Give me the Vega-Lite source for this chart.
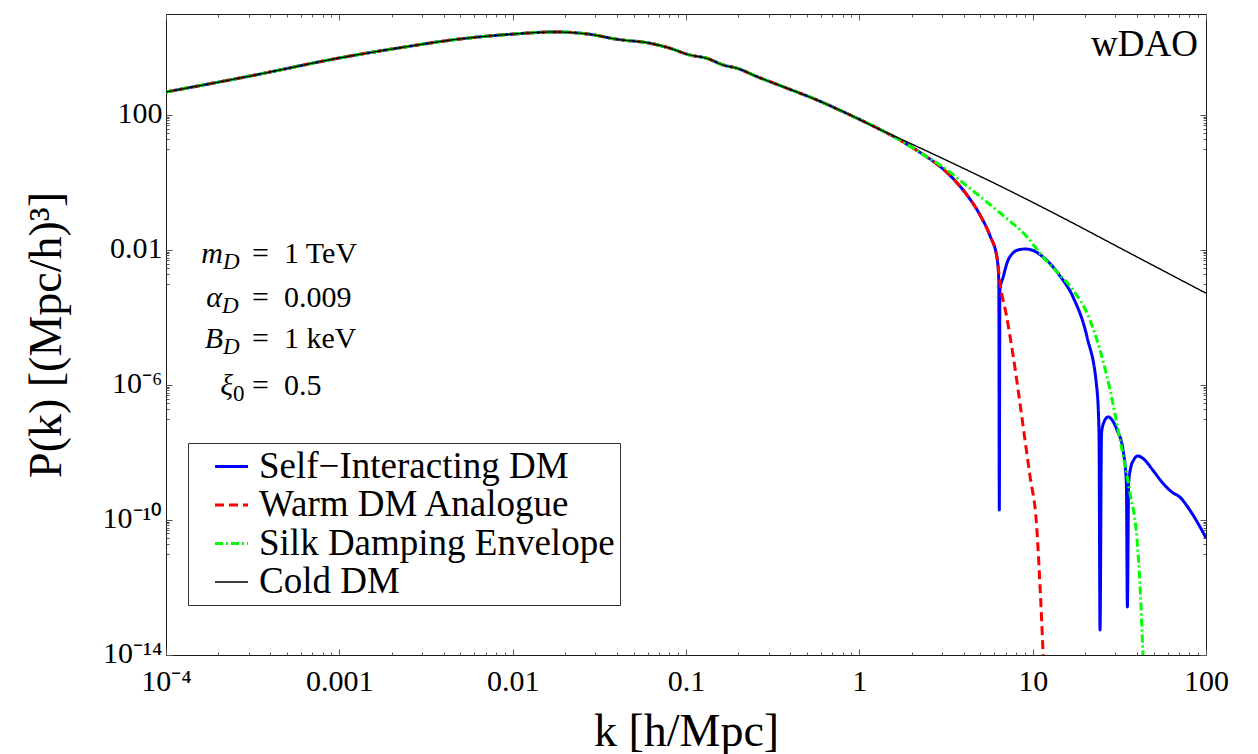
{
  "$schema": "https://vega.github.io/schema/vega-lite/v6.json",
  "width": 1040,
  "height": 641,
  "autosize": "none",
  "padding": {"left": 166, "top": 14, "right": 52, "bottom": 99},
  "background": "white",
  "config": {
    "view": {"stroke": "#1a1a1a", "strokeWidth": 1},
    "font": "Liberation Serif",
    "axis": {
      "grid": false,
      "domain": false,
      "tickColor": "#555",
      "tickWidth": 1,
      "labelFont": "Liberation Serif",
      "labelFontSize": 30,
      "labelColor": "#000",
      "labelFlush": false,
      "labelOverlap": false,
      "titleFont": "Liberation Serif",
      "titleFontSize": 46,
      "titleFontWeight": "normal",
      "titleColor": "#000"
    }
  },
  "datasets": {
    "curves": [
      {"series": "Self−Interacting DM", "k": 0.0001, "P": 488},
      {"series": "Self−Interacting DM", "k": 0.000316, "P": 1500},
      {"series": "Self−Interacting DM", "k": 0.001, "P": 4970},
      {"series": "Self−Interacting DM", "k": 0.00224, "P": 10000},
      {"series": "Self−Interacting DM", "k": 0.00497, "P": 18200},
      {"series": "Self−Interacting DM", "k": 0.00966, "P": 25000},
      {"series": "Self−Interacting DM", "k": 0.0175, "P": 29300},
      {"series": "Self−Interacting DM", "k": 0.0279, "P": 25000},
      {"series": "Self−Interacting DM", "k": 0.04, "P": 17800},
      {"series": "Self−Interacting DM", "k": 0.0619, "P": 13600},
      {"series": "Self−Interacting DM", "k": 0.0776, "P": 10300},
      {"series": "Self−Interacting DM", "k": 0.1054, "P": 6100},
      {"series": "Self−Interacting DM", "k": 0.132, "P": 4860},
      {"series": "Self−Interacting DM", "k": 0.164, "P": 3080},
      {"series": "Self−Interacting DM", "k": 0.197, "P": 2460},
      {"series": "Self−Interacting DM", "k": 0.257, "P": 1390},
      {"series": "Self−Interacting DM", "k": 0.363, "P": 700},
      {"series": "Self−Interacting DM", "k": 0.57, "P": 282},
      {"series": "Self−Interacting DM", "k": 0.883, "P": 102},
      {"series": "Self−Interacting DM", "k": 1.371, "P": 34},
      {"series": "Self−Interacting DM", "k": 1.717, "P": 18.4},
      {"series": "Self−Interacting DM", "k": 2.04, "P": 10.7},
      {"series": "Self−Interacting DM", "k": 2.457, "P": 5.78},
      {"series": "Self−Interacting DM", "k": 3.04, "P": 2.55},
      {"series": "Self−Interacting DM", "k": 3.47, "P": 1.33},
      {"series": "Self−Interacting DM", "k": 4.18, "P": 0.431},
      {"series": "Self−Interacting DM", "k": 4.97, "P": 0.11},
      {"series": "Self−Interacting DM", "k": 5.68, "P": 0.0263},
      {"series": "Self−Interacting DM", "k": 6.23, "P": 0.00586},
      {"series": "Self−Interacting DM", "k": 6.38, "P": 0.0012},
      {"series": "Self−Interacting DM", "k": 6.42, "P": 2.0e-10},
      {"series": "Self−Interacting DM", "k": 6.47, "P": 0.00066},
      {"series": "Self−Interacting DM", "k": 6.77, "P": 0.00164},
      {"series": "Self−Interacting DM", "k": 7.11, "P": 0.00417},
      {"series": "Self−Interacting DM", "k": 7.7, "P": 0.00824},
      {"series": "Self−Interacting DM", "k": 8.23, "P": 0.0101},
      {"series": "Self−Interacting DM", "k": 9.04, "P": 0.0108},
      {"series": "Self−Interacting DM", "k": 10.05, "P": 0.00977},
      {"series": "Self−Interacting DM", "k": 11.47, "P": 0.00628},
      {"series": "Self−Interacting DM", "k": 14.38, "P": 0.00172},
      {"series": "Self−Interacting DM", "k": 17.09, "P": 0.000409},
      {"series": "Self−Interacting DM", "k": 20.59, "P": 2.67e-5},
      {"series": "Self−Interacting DM", "k": 23.51, "P": 7.18e-7},
      {"series": "Self−Interacting DM", "k": 24.14, "P": 3.81e-8},
      {"series": "Self−Interacting DM", "k": 24.47, "P": 5.5e-14},
      {"series": "Self−Interacting DM", "k": 24.96, "P": 3.81e-8},
      {"series": "Self−Interacting DM", "k": 25.8, "P": 8.07e-8},
      {"series": "Self−Interacting DM", "k": 27.21, "P": 1.14e-7},
      {"series": "Self−Interacting DM", "k": 28.7, "P": 9.27e-8},
      {"series": "Self−Interacting DM", "k": 30.67, "P": 4.68e-8},
      {"series": "Self−Interacting DM", "k": 33.21, "P": 1.2e-8},
      {"series": "Self−Interacting DM", "k": 34.72, "P": 1.26e-9},
      {"series": "Self−Interacting DM", "k": 35.19, "P": 2.66e-13},
      {"series": "Self−Interacting DM", "k": 35.8, "P": 1.26e-9},
      {"series": "Self−Interacting DM", "k": 36.77, "P": 3.5e-9},
      {"series": "Self−Interacting DM", "k": 38.27, "P": 6.04e-9},
      {"series": "Self−Interacting DM", "k": 40.35, "P": 7.94e-9},
      {"series": "Self−Interacting DM", "k": 44.3, "P": 6.04e-9},
      {"series": "Self−Interacting DM", "k": 49.25, "P": 3.05e-9},
      {"series": "Self−Interacting DM", "k": 56.26, "P": 1.26e-9},
      {"series": "Self−Interacting DM", "k": 63.4, "P": 6.81e-10},
      {"series": "Self−Interacting DM", "k": 70.5, "P": 4.84e-10},
      {"series": "Self−Interacting DM", "k": 80.5, "P": 2.0e-10},
      {"series": "Self−Interacting DM", "k": 92.4, "P": 6.25e-11},
      {"series": "Self−Interacting DM", "k": 100, "P": 2.94e-11},

      {"series": "Warm DM Analogue", "k": 0.0001, "P": 488},
      {"series": "Warm DM Analogue", "k": 0.000316, "P": 1500},
      {"series": "Warm DM Analogue", "k": 0.001, "P": 4970},
      {"series": "Warm DM Analogue", "k": 0.00224, "P": 10000},
      {"series": "Warm DM Analogue", "k": 0.00497, "P": 18200},
      {"series": "Warm DM Analogue", "k": 0.00966, "P": 25000},
      {"series": "Warm DM Analogue", "k": 0.0175, "P": 29300},
      {"series": "Warm DM Analogue", "k": 0.0279, "P": 25000},
      {"series": "Warm DM Analogue", "k": 0.04, "P": 17800},
      {"series": "Warm DM Analogue", "k": 0.0619, "P": 13600},
      {"series": "Warm DM Analogue", "k": 0.0776, "P": 10300},
      {"series": "Warm DM Analogue", "k": 0.1054, "P": 6100},
      {"series": "Warm DM Analogue", "k": 0.132, "P": 4860},
      {"series": "Warm DM Analogue", "k": 0.164, "P": 3080},
      {"series": "Warm DM Analogue", "k": 0.197, "P": 2460},
      {"series": "Warm DM Analogue", "k": 0.257, "P": 1390},
      {"series": "Warm DM Analogue", "k": 0.363, "P": 700},
      {"series": "Warm DM Analogue", "k": 0.57, "P": 282},
      {"series": "Warm DM Analogue", "k": 0.883, "P": 102},
      {"series": "Warm DM Analogue", "k": 1.371, "P": 34},
      {"series": "Warm DM Analogue", "k": 1.717, "P": 18.4},
      {"series": "Warm DM Analogue", "k": 2.04, "P": 10.7},
      {"series": "Warm DM Analogue", "k": 2.457, "P": 5.78},
      {"series": "Warm DM Analogue", "k": 3.04, "P": 2.55},
      {"series": "Warm DM Analogue", "k": 3.47, "P": 1.33},
      {"series": "Warm DM Analogue", "k": 4.18, "P": 0.431},
      {"series": "Warm DM Analogue", "k": 4.97, "P": 0.11},
      {"series": "Warm DM Analogue", "k": 5.68, "P": 0.0263},
      {"series": "Warm DM Analogue", "k": 6.23, "P": 0.00586},
      {"series": "Warm DM Analogue", "k": 6.48, "P": 0.00106},
      {"series": "Warm DM Analogue", "k": 7.08, "P": 0.000107},
      {"series": "Warm DM Analogue", "k": 7.73, "P": 6.97e-6},
      {"series": "Warm DM Analogue", "k": 8.45, "P": 2.9e-7},
      {"series": "Warm DM Analogue", "k": 9.03, "P": 2.37e-8},
      {"series": "Warm DM Analogue", "k": 9.65, "P": 2.03e-9},
      {"series": "Warm DM Analogue", "k": 10.55, "P": 6.38e-11},
      {"series": "Warm DM Analogue", "k": 11.03, "P": 1.06e-12},
      {"series": "Warm DM Analogue", "k": 11.5, "P": 1.0e-14},

      {"series": "Silk Damping Envelope", "k": 0.0001, "P": 488},
      {"series": "Silk Damping Envelope", "k": 0.000316, "P": 1500},
      {"series": "Silk Damping Envelope", "k": 0.001, "P": 4970},
      {"series": "Silk Damping Envelope", "k": 0.00224, "P": 10000},
      {"series": "Silk Damping Envelope", "k": 0.00497, "P": 18200},
      {"series": "Silk Damping Envelope", "k": 0.00966, "P": 25000},
      {"series": "Silk Damping Envelope", "k": 0.0175, "P": 29300},
      {"series": "Silk Damping Envelope", "k": 0.0279, "P": 25000},
      {"series": "Silk Damping Envelope", "k": 0.04, "P": 17800},
      {"series": "Silk Damping Envelope", "k": 0.0619, "P": 13600},
      {"series": "Silk Damping Envelope", "k": 0.0776, "P": 10300},
      {"series": "Silk Damping Envelope", "k": 0.1054, "P": 6100},
      {"series": "Silk Damping Envelope", "k": 0.132, "P": 4860},
      {"series": "Silk Damping Envelope", "k": 0.164, "P": 3080},
      {"series": "Silk Damping Envelope", "k": 0.197, "P": 2460},
      {"series": "Silk Damping Envelope", "k": 0.257, "P": 1390},
      {"series": "Silk Damping Envelope", "k": 0.363, "P": 700},
      {"series": "Silk Damping Envelope", "k": 0.57, "P": 282},
      {"series": "Silk Damping Envelope", "k": 0.883, "P": 102},
      {"series": "Silk Damping Envelope", "k": 1.371, "P": 34},
      {"series": "Silk Damping Envelope", "k": 1.717, "P": 18.4},
      {"series": "Silk Damping Envelope", "k": 2.04, "P": 10.7},
      {"series": "Silk Damping Envelope", "k": 2.457, "P": 5.78},
      {"series": "Silk Damping Envelope", "k": 3.04, "P": 2.92},
      {"series": "Silk Damping Envelope", "k": 4.18, "P": 0.8},
      {"series": "Silk Damping Envelope", "k": 6.48, "P": 0.1265},
      {"series": "Silk Damping Envelope", "k": 9.28, "P": 0.0246},
      {"series": "Silk Damping Envelope", "k": 11.47, "P": 0.00628},
      {"series": "Silk Damping Envelope", "k": 13.82, "P": 0.00225},
      {"series": "Silk Damping Envelope", "k": 17.09, "P": 0.000661},
      {"series": "Silk Damping Envelope", "k": 20.59, "P": 0.000137},
      {"series": "Silk Damping Envelope", "k": 24.47, "P": 1.1e-5},
      {"series": "Silk Damping Envelope", "k": 27.94, "P": 7.18e-7},
      {"series": "Silk Damping Envelope", "k": 31.92, "P": 2.37e-8},
      {"series": "Silk Damping Envelope", "k": 36.45, "P": 6.35e-10},
      {"series": "Silk Damping Envelope", "k": 40.0, "P": 2.57e-11},
      {"series": "Silk Damping Envelope", "k": 41.6, "P": 1.19e-12},
      {"series": "Silk Damping Envelope", "k": 43.3, "P": 1.0e-14},

      {"series": "Cold DM", "k": 0.0001, "P": 488},
      {"series": "Cold DM", "k": 0.000316, "P": 1500},
      {"series": "Cold DM", "k": 0.001, "P": 4970},
      {"series": "Cold DM", "k": 0.00224, "P": 10000},
      {"series": "Cold DM", "k": 0.00497, "P": 18200},
      {"series": "Cold DM", "k": 0.00966, "P": 25000},
      {"series": "Cold DM", "k": 0.0175, "P": 29300},
      {"series": "Cold DM", "k": 0.0279, "P": 25000},
      {"series": "Cold DM", "k": 0.04, "P": 17800},
      {"series": "Cold DM", "k": 0.0619, "P": 13600},
      {"series": "Cold DM", "k": 0.0776, "P": 10300},
      {"series": "Cold DM", "k": 0.1054, "P": 6100},
      {"series": "Cold DM", "k": 0.132, "P": 4860},
      {"series": "Cold DM", "k": 0.164, "P": 3080},
      {"series": "Cold DM", "k": 0.197, "P": 2460},
      {"series": "Cold DM", "k": 0.257, "P": 1390},
      {"series": "Cold DM", "k": 0.363, "P": 700},
      {"series": "Cold DM", "k": 0.57, "P": 282},
      {"series": "Cold DM", "k": 0.883, "P": 102},
      {"series": "Cold DM", "k": 1.371, "P": 34},
      {"series": "Cold DM", "k": 1.717, "P": 20.1},
      {"series": "Cold DM", "k": 2.152, "P": 11.8},
      {"series": "Cold DM", "k": 3.336, "P": 4.11},
      {"series": "Cold DM", "k": 6.48, "P": 0.798},
      {"series": "Cold DM", "k": 9.65, "P": 0.287},
      {"series": "Cold DM", "k": 15.78, "P": 0.0785},
      {"series": "Cold DM", "k": 31.92, "P": 0.0116},
      {"series": "Cold DM", "k": 100, "P": 0.00053}
    ],
    "params": [
      {"sym": "m", "sub": "D", "rest": "=\u20021 TeV", "ks": 0.0002133, "ke": 0.0003134, "P": 0.00426},
      {"sym": "α", "sub": "D", "rest": "=\u20020.009", "ks": 0.0002104, "ke": 0.0003134, "P": 0.000207},
      {"sym": "B", "sub": "D", "rest": "=\u20021 keV", "ks": 0.0002133, "ke": 0.0003134, "P": 0.0000126},
      {"sym": "ξ", "sub": "0", "rest": "=\u20020.5", "ks": 0.0002435, "ke": 0.0003134, "P": 5.1e-7}
    ],
    "tag": [
      {"label": "wDAO", "k": 89.9, "P": 5690}
    ]
  },
  "layer": [
    {
      "data": {"name": "curves"},
      "transform": [{"filter": "datum.series === 'Self−Interacting DM'"}],
      "mark": {"type": "line", "strokeWidth": 3, "clip": true, "interpolate": "monotone"},
      "encoding": {
        "x": {
          "field": "k", "type": "quantitative",
          "scale": {"type": "log", "domain": [0.0001, 100], "nice": false},
          "axis": {
            "orient": "bottom",
            "values": [0.0001, 0.001, 0.01, 0.1, 1, 10, 100],
            "tickSize": -6,
            "labelPadding": 17,
            "labelExpr": "datum.value < 0.0005 ? '10⁻⁴' : format(datum.value, '~g')",
            "title": "k [h/Mpc]",
            "titlePadding": 13
          }
        },
        "y": {
          "field": "P", "type": "quantitative",
          "scale": {"type": "log", "domain": [1e-14, 100000], "nice": false},
          "axis": {
            "orient": "left",
            "values": [1e-14, 1e-10, 1e-6, 0.01, 100],
            "tickSize": -6,
            "labelPadding": 10,
            "labelOffset": -2,
            "labelExpr": "datum.value > 1 ? '100' : datum.value > 0.001 ? '0.01' : datum.value > 1e-8 ? '10⁻⁶' : datum.value > 1e-12 ? '10⁻¹⁰' : '10⁻¹⁴'",
            "title": "P(k) [(Mpc/h)³]",
            "titlePadding": 32
          }
        },
        "color": {
          "field": "series", "type": "nominal",
          "scale": {
            "domain": ["Self−Interacting DM", "Warm DM Analogue", "Silk Damping Envelope", "Cold DM"],
            "range": ["#0000ff", "#ff0000", "#00ff00", "#000000"]
          },
          "legend": {
            "orient": "none", "legendX": 22, "legendY": 429, "title": null,
            "symbolType": "stroke", "symbolSize": 1089, "symbolStrokeWidth": 3,
            "labelFont": "Liberation Serif", "labelFontSize": 37, "labelColor": "#000",
            "labelLimit": 800, "labelOffset": 9, "symbolOffset": 20, "rowPadding": 0.5,
            "padding": 5, "strokeColor": "#333", "fillColor": "#ffffff",
            "encode": {"symbols": {"update": {"strokeWidth": {"signal": "datum.value === 'Cold DM' ? 1.5 : 3"}}}}
          }
        },
        "strokeDash": {
          "field": "series", "type": "nominal",
          "scale": {
            "domain": ["Self−Interacting DM", "Warm DM Analogue", "Silk Damping Envelope", "Cold DM"],
            "range": [[1, 0], [9, 5], [8, 3, 2, 3], [1, 0]]
          },
          "legend": {
            "orient": "none", "legendX": 22, "legendY": 429, "title": null,
            "symbolType": "stroke", "symbolSize": 1089, "symbolStrokeWidth": 3,
            "labelFont": "Liberation Serif", "labelFontSize": 37, "labelColor": "#000",
            "labelLimit": 800, "labelOffset": 9, "symbolOffset": 20, "rowPadding": 0.5,
            "padding": 5, "strokeColor": "#333", "fillColor": "#ffffff"
          }
        }
      }
    },
    {
      "data": {"name": "curves"},
      "transform": [{"filter": "datum.series === 'Warm DM Analogue'"}],
      "mark": {"type": "line", "strokeWidth": 3, "clip": true, "interpolate": "monotone"},
      "encoding": {
        "x": {
          "field": "k", "type": "quantitative",
          "scale": {"type": "log", "domain": [0.0001, 100], "nice": false},
          "axis": {
            "orient": "bottom",
            "values": [0.0002, 0.0003, 0.0004, 0.0005, 0.0006, 0.0007, 0.0008, 0.0009,
                       0.002, 0.003, 0.004, 0.005, 0.006, 0.007, 0.008, 0.009,
                       0.02, 0.03, 0.04, 0.05, 0.06, 0.07, 0.08, 0.09,
                       0.2, 0.3, 0.4, 0.5, 0.6, 0.7, 0.8, 0.9,
                       2, 3, 4, 5, 6, 7, 8, 9,
                       20, 30, 40, 50, 60, 70, 80, 90],
            "tickSize": -3, "labels": false, "title": null
          }
        },
        "y": {
          "field": "P", "type": "quantitative",
          "scale": {"type": "log", "domain": [1e-14, 100000], "nice": false},
          "axis": {
            "orient": "left",
            "values": [90, 80, 70, 60, 50, 40, 30, 20, 10,
                       0.009, 0.008, 0.007, 0.006, 0.005, 0.004, 0.003, 0.002, 0.001,
                       9e-7, 8e-7, 7e-7, 6e-7, 5e-7, 4e-7, 3e-7, 2e-7, 1e-7,
                       9e-11, 8e-11, 7e-11, 6e-11, 5e-11, 4e-11, 3e-11, 2e-11, 1e-11],
            "tickSize": -3, "labels": false, "title": null
          }
        },
        "color": {"field": "series", "type": "nominal",
          "scale": {"domain": ["Self−Interacting DM", "Warm DM Analogue", "Silk Damping Envelope", "Cold DM"], "range": ["#0000ff", "#ff0000", "#00ff00", "#000000"]}},
        "strokeDash": {"field": "series", "type": "nominal",
          "scale": {"domain": ["Self−Interacting DM", "Warm DM Analogue", "Silk Damping Envelope", "Cold DM"], "range": [[1, 0], [9, 5], [8, 3, 2, 3], [1, 0]]}}
      }
    },
    {
      "data": {"name": "curves"},
      "transform": [{"filter": "datum.series === 'Silk Damping Envelope'"}],
      "mark": {"type": "line", "strokeWidth": 3, "clip": true, "interpolate": "monotone"},
      "encoding": {
        "x": {
          "field": "k", "type": "quantitative",
          "scale": {"type": "log", "domain": [0.0001, 100], "nice": false},
          "axis": {
            "orient": "top",
            "values": [0.0001, 0.001, 0.01, 0.1, 1, 10, 100],
            "tickSize": -6, "labels": false, "title": null
          }
        },
        "y": {
          "field": "P", "type": "quantitative",
          "scale": {"type": "log", "domain": [1e-14, 100000], "nice": false},
          "axis": {
            "orient": "right",
            "values": [1e-14, 1e-10, 1e-6, 0.01, 100],
            "tickSize": -6, "labels": false, "title": null
          }
        },
        "color": {"field": "series", "type": "nominal",
          "scale": {"domain": ["Self−Interacting DM", "Warm DM Analogue", "Silk Damping Envelope", "Cold DM"], "range": ["#0000ff", "#ff0000", "#00ff00", "#000000"]}},
        "strokeDash": {"field": "series", "type": "nominal",
          "scale": {"domain": ["Self−Interacting DM", "Warm DM Analogue", "Silk Damping Envelope", "Cold DM"], "range": [[1, 0], [9, 5], [8, 3, 2, 3], [1, 0]]}}
      }
    },
    {
      "data": {"name": "curves"},
      "transform": [{"filter": "datum.series === 'Cold DM'"}],
      "mark": {"type": "line", "strokeWidth": 1.4, "clip": true, "interpolate": "monotone"},
      "encoding": {
        "x": {
          "field": "k", "type": "quantitative",
          "scale": {"type": "log", "domain": [0.0001, 100], "nice": false},
          "axis": {
            "orient": "top",
            "values": [0.0002, 0.0003, 0.0004, 0.0005, 0.0006, 0.0007, 0.0008, 0.0009,
                       0.002, 0.003, 0.004, 0.005, 0.006, 0.007, 0.008, 0.009,
                       0.02, 0.03, 0.04, 0.05, 0.06, 0.07, 0.08, 0.09,
                       0.2, 0.3, 0.4, 0.5, 0.6, 0.7, 0.8, 0.9,
                       2, 3, 4, 5, 6, 7, 8, 9,
                       20, 30, 40, 50, 60, 70, 80, 90],
            "tickSize": -3, "labels": false, "title": null
          }
        },
        "y": {
          "field": "P", "type": "quantitative",
          "scale": {"type": "log", "domain": [1e-14, 100000], "nice": false},
          "axis": {
            "orient": "right",
            "values": [90, 80, 70, 60, 50, 40, 30, 20, 10,
                       0.009, 0.008, 0.007, 0.006, 0.005, 0.004, 0.003, 0.002, 0.001,
                       9e-7, 8e-7, 7e-7, 6e-7, 5e-7, 4e-7, 3e-7, 2e-7, 1e-7,
                       9e-11, 8e-11, 7e-11, 6e-11, 5e-11, 4e-11, 3e-11, 2e-11, 1e-11],
            "tickSize": -3, "labels": false, "title": null
          }
        },
        "color": {"field": "series", "type": "nominal",
          "scale": {"domain": ["Self−Interacting DM", "Warm DM Analogue", "Silk Damping Envelope", "Cold DM"], "range": ["#0000ff", "#ff0000", "#00ff00", "#000000"]}},
        "strokeDash": {"field": "series", "type": "nominal",
          "scale": {"domain": ["Self−Interacting DM", "Warm DM Analogue", "Silk Damping Envelope", "Cold DM"], "range": [[1, 0], [9, 5], [8, 3, 2, 3], [1, 0]]}}
      }
    },
    {
      "data": {"name": "params"},
      "mark": {"type": "text", "align": "right", "baseline": "alphabetic", "font": "Liberation Serif", "fontSize": 30, "fontStyle": "italic", "color": "#000"},
      "encoding": {
        "x": {"field": "ks", "type": "quantitative", "scale": {"type": "log", "domain": [0.0001, 100], "nice": false}, "axis": null},
        "y": {"field": "P", "type": "quantitative", "scale": {"type": "log", "domain": [1e-14, 100000], "nice": false}, "axis": null},
        "text": {"field": "sym"}
      }
    },
    {
      "data": {"name": "params"},
      "mark": {"type": "text", "align": "left", "baseline": "alphabetic", "font": "Liberation Serif", "fontSize": 23, "dy": 6, "fontStyle": {"expr": "datum.sub === '0' ? 'normal' : 'italic'"}, "color": "#000"},
      "encoding": {
        "x": {"field": "ks", "type": "quantitative", "scale": {"type": "log", "domain": [0.0001, 100], "nice": false}, "axis": null},
        "y": {"field": "P", "type": "quantitative", "scale": {"type": "log", "domain": [1e-14, 100000], "nice": false}, "axis": null},
        "text": {"field": "sub"}
      }
    },
    {
      "data": {"name": "params"},
      "mark": {"type": "text", "align": "left", "baseline": "alphabetic", "font": "Liberation Serif", "fontSize": 30, "color": "#000"},
      "encoding": {
        "x": {"field": "ke", "type": "quantitative", "scale": {"type": "log", "domain": [0.0001, 100], "nice": false}, "axis": null},
        "y": {"field": "P", "type": "quantitative", "scale": {"type": "log", "domain": [1e-14, 100000], "nice": false}, "axis": null},
        "text": {"field": "rest"}
      }
    },
    {
      "data": {"name": "tag"},
      "mark": {"type": "text", "align": "right", "baseline": "alphabetic", "font": "Liberation Serif", "fontSize": 37, "color": "#000"},
      "encoding": {
        "x": {"field": "k", "type": "quantitative", "scale": {"type": "log", "domain": [0.0001, 100], "nice": false}, "axis": null},
        "y": {"field": "P", "type": "quantitative", "scale": {"type": "log", "domain": [1e-14, 100000], "nice": false}, "axis": null},
        "text": {"field": "label"}
      }
    }
  ],
  "resolve": {"axis": {"x": "independent", "y": "independent"}}
}
